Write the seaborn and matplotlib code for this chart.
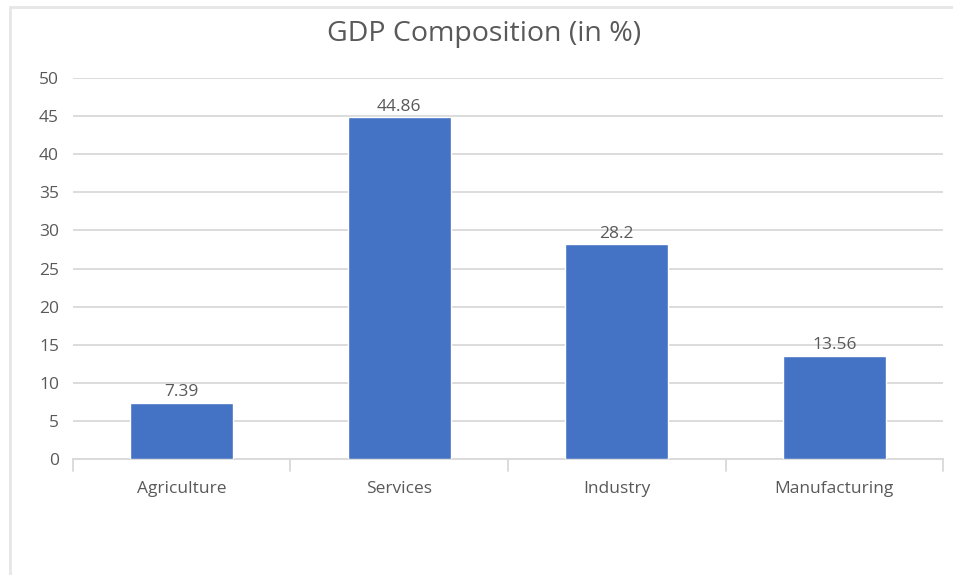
import matplotlib
matplotlib.use("Agg")
import matplotlib.pyplot as plt
import seaborn as sns
import pandas as pd
from matplotlib.lines import Line2D

categories = ["Agriculture", "Services", "Industry", "Manufacturing"]
values = [7.39, 44.86, 28.2, 13.56]
value_labels = ["7.39", "44.86", "28.2", "13.56"]
yticks = [0, 5, 10, 15, 20, 25, 30, 35, 40, 45, 50]

sns.set_theme(style="white")
plt.rcParams['font.family'] = ['Open Sans', 'DejaVu Sans']

text_color = "#595959"
grid_color = "#D9D9D9"
bar_color = "#4472C4"

df = pd.DataFrame({"category": categories, "value": values})

fig = plt.figure(figsize=(9.54, 5.75), dpi=100)
ax = fig.add_axes([0.0765, 0.2017, 0.912, 0.6626])

sns.barplot(data=df, x="category", y="value", color=bar_color, width=0.475,
            saturation=1, ax=ax, zorder=3)

ax.set_ylim(0, 50)
ax.set_xlim(-0.5, 3.5)
ax.set_yticks(yticks)
ax.set_yticklabels([str(t) for t in yticks])
ax.yaxis.grid(True, color=grid_color, linewidth=1.3, zorder=0)
ax.set_axisbelow(True)
for s in ["top", "right", "left"]:
    ax.spines[s].set_visible(False)
ax.spines["bottom"].set_color(grid_color)
ax.spines["bottom"].set_linewidth(1.3)
ax.set_xlabel("")
ax.set_ylabel("")
ax.tick_params(axis="y", length=0, pad=10, labelsize=12.5, labelcolor=text_color)
ax.tick_params(axis="x", length=0, pad=16, labelsize=12.5, labelcolor=text_color)

# category boundary tick marks
for b in [-0.5, 0.5, 1.5, 2.5, 3.5]:
    ax.plot([b, b], [0, -1.6], color=grid_color, linewidth=1.3, clip_on=False, zorder=2)

for i, (v, lab) in enumerate(zip(values, value_labels)):
    ax.text(i, v + 0.3, lab, ha="center", va="bottom", fontsize=12.5, color=text_color)

fig.text(0.507, 0.940, "GDP Composition (in %)", ha="center", va="center",
         fontsize=20.5, color=text_color)

# light outer border (top and left)
fig.add_artist(Line2D([0.0105, 1.0], [0.9875, 0.9875], color="#E6E6E6", linewidth=2,
                      transform=fig.transFigure))
fig.add_artist(Line2D([0.0105, 0.0105], [0.0, 0.9875], color="#E6E6E6", linewidth=2,
                      transform=fig.transFigure))

fig.savefig("out.png", dpi=100)
